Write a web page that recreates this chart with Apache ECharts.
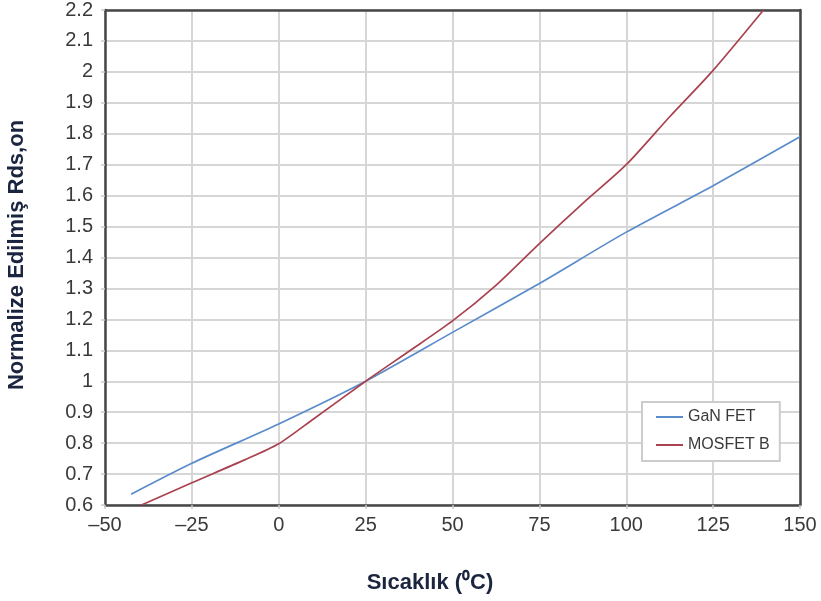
<!DOCTYPE html>
<html>
<head>
<meta charset="utf-8">
<script src="https://cdn.jsdelivr.net/npm/echarts@6/dist/echarts.min.js"></script>
<style>html,body{margin:0;padding:0;background:#fff;}#c{width:821px;height:601px;}</style>
</head>
<body>
<div id="c"></div>
<script>
const seriesNames = ['GaN FET', 'MOSFET B'];
const ganTemp = [-42.5, -25, 0, 25, 50, 75, 100, 125, 150];
const ganRds  = [0.635, 0.735, 0.862, 1.0, 1.158, 1.316, 1.482, 1.632, 1.79];
const mosTemp = [-39.5, -25, -10, 0, 10, 25, 37.5, 50, 62.5, 75, 87.5, 100, 112.5, 125, 139.5];
const mosRds  = [0.6, 0.672, 0.745, 0.798, 0.878, 1.0, 1.097, 1.195, 1.31, 1.445, 1.575, 1.70, 1.855, 2.005, 2.2];
const xTitle = 'Sıcaklık (⁰C)';
const yTitle = 'Normalize Edilmiş Rds,on';

const chart = echarts.init(document.getElementById('c'));
const pair = (xs, ys) => xs.map((x, i) => [x, ys[i]]);
const frame = { show: true, lineStyle: { color: '#474747', width: 2.5 } };
const labelFont = { fontFamily: 'Liberation Sans', fontSize: 20, color: '#3a3a3a' };
chart.setOption({
  animation: false,
  grid: { left: 105, right: 21, top: 10, bottom: 96, containLabel: false },
  xAxis: [{
    type: 'value', min: -50, max: 150, interval: 25, position: 'bottom',
    axisLine: Object.assign({ onZero: false }, frame),
    axisTick: { show: true, length: 4, lineStyle: { color: '#ccc', width: 1.5 } },
    splitLine: { show: true, lineStyle: { color: '#d6d6d6', width: 2 } },
    axisLabel: Object.assign({ margin: 10, formatter: v => String(v).replace('-', '\u2013') }, labelFont)
  }, {
    type: 'value', min: -50, max: 150, position: 'top',
    axisLine: Object.assign({ onZero: false }, frame),
    axisTick: { show: false }, axisLabel: { show: false }, splitLine: { show: false }
  }],
  yAxis: [{
    type: 'value', min: 0.6, max: 2.2, interval: 0.1, position: 'left',
    axisLine: Object.assign({ onZero: false }, frame),
    axisTick: { show: true, length: 4, lineStyle: { color: '#ccc', width: 1.5 } },
    splitLine: { show: true, lineStyle: { color: '#d6d6d6', width: 2 } },
    axisLabel: Object.assign({ margin: 12, formatter: v => String(Math.round(v * 10) / 10) }, labelFont)
  }, {
    type: 'value', min: 0.6, max: 2.2, position: 'right',
    axisLine: Object.assign({ onZero: false }, frame),
    axisTick: { show: false }, axisLabel: { show: false }, splitLine: { show: false }
  }],
  legend: {
    orient: 'vertical', left: 642, top: 402,
    backgroundColor: '#fff', borderColor: '#cccccc', borderWidth: 2,
    padding: [7, 10, 8, 14], itemGap: 12, itemWidth: 27, itemHeight: 2, icon: 'rect',
    textStyle: { fontFamily: 'Liberation Sans', fontSize: 16, color: '#3a3a3a' },
    data: seriesNames
  },
  graphic: [
    { type: 'text', x: 430, y: 583, style: { text: xTitle, fontFamily: 'Liberation Sans', fontWeight: 'bold', fontSize: 22, fill: '#1c2540', align: 'center', verticalAlign: 'middle' } },
    { type: 'text', x: 17, y: 255, rotation: Math.PI / 2, style: { text: yTitle, fontFamily: 'Liberation Sans', fontWeight: 'bold', fontSize: 22, fill: '#1c2540', align: 'center', verticalAlign: 'middle' } }
  ],
  series: [
    { name: seriesNames[0], type: 'line', xAxisIndex: 0, yAxisIndex: 0, data: pair(ganTemp, ganRds), smooth: 0.25, symbol: 'none',
      lineStyle: { color: '#5a8bcb', width: 1.7 }, itemStyle: { color: '#5a8bcb' } },
    { name: seriesNames[1], type: 'line', xAxisIndex: 0, yAxisIndex: 0, data: pair(mosTemp, mosRds), smooth: 0.25, symbol: 'none',
      lineStyle: { color: '#a8434f', width: 1.7 }, itemStyle: { color: '#a8434f' } }
  ]
});
</script>
</body>
</html>
